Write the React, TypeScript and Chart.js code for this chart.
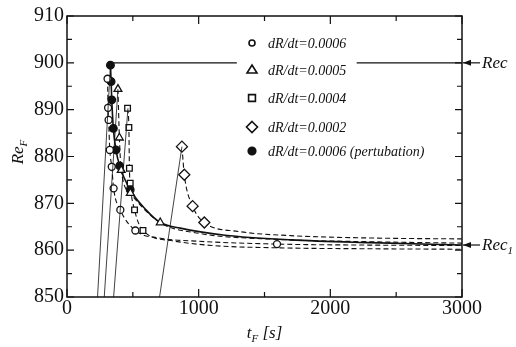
import React, { useEffect, useRef } from "react";
import { Chart, registerables } from "chart.js";
Chart.register(...registerables);

// ---- data ----
const xTickValues = [0, 1000, 2000, 3000];
const yTickValues = [850, 860, 870, 880, 890, 900, 910];

// dR/dt = 0.0006 (open circles); flagged entries carry markers, rest smooth curve
const circleT = [308, 312, 316, 325, 340, 354, 405, 519, 700, 1000, 1595, 2200, 3000];
const circleRe = [896.6, 890.4, 887.8, 881.4, 877.8, 873.2, 868.6, 864.2, 862.6, 861.9, 861.3, 861.1, 861.0];
const circleMarked = [1, 1, 1, 1, 1, 1, 1, 1, 0, 0, 1, 0, 0];

// dR/dt = 0.0005 (open triangles)
const triT = [387, 398, 412, 481, 708, 1000, 1600, 2300, 3000];
const triRe = [894.4, 884.0, 877.1, 872.2, 865.9, 863.6, 862.3, 861.8, 861.5];
const triMarked = [1, 1, 1, 1, 1, 0, 0, 0, 0];

// dR/dt = 0.0004 (open squares)
const sqT = [460, 470, 474, 480, 513, 577, 800, 1100, 1600, 2300, 3000];
const sqRe = [890.3, 886.2, 877.5, 874.3, 868.6, 864.2, 862.0, 861.0, 860.5, 860.3, 860.2];
const sqMarked = [1, 1, 1, 1, 1, 1, 0, 0, 0, 0, 0];

// dR/dt = 0.0002 (open diamonds)
const diaT = [873, 891, 954, 1043, 1300, 1700, 2300, 3000];
const diaRe = [882.1, 876.1, 869.4, 865.9, 864.0, 863.1, 862.6, 862.4];
const diaMarked = [1, 1, 1, 1, 0, 0, 0, 0];

// dR/dt = 0.0006 perturbation (filled circles, solid line)
const pertT = [330, 335, 340, 352, 372, 400, 480, 600, 708, 860, 1200, 1700, 2300, 3000];
const pertRe = [899.5, 896.0, 892.1, 886.0, 881.4, 878.0, 872.9, 868.6, 865.9, 864.7, 863.2, 862.2, 861.6, 861.1];
const pertMarked = [1, 1, 1, 1, 1, 1, 1, 0, 0, 0, 0, 0, 0, 0];

// ramp-up lines (thin solid)
const rampStartT = [232, 283, 354, 703];
const rampEndT = [330, 387, 463, 873];
const rampEndRe = [899.5, 894.4, 890.3, 882.1];
const rampStartRe = 850;

// critical values
const recValue = 900;
const rec1Value = 861.1;
const recSeg1T = [350, 1290];
const recSeg2T = [2200, 3000];

const legendLabels = [
  "dR/dt=0.0006",
  "dR/dt=0.0005",
  "dR/dt=0.0004",
  "dR/dt=0.0002",
  "dR/dt=0.0006 (pertubation)",
];

const pts = (t: number[], r: number[]) => t.map((x, i) => ({ x, y: r[i] }));

function drawMarker(c: CanvasRenderingContext2D, style: string, x: number, y: number, r: number, fill: string) {
  c.beginPath();
  if (style === "circle") {
    c.arc(x, y, r, 0, Math.PI * 2);
  } else if (style === "triangle") {
    c.moveTo(x, y - r);
    c.lineTo(x + r, y + r * 0.6);
    c.lineTo(x - r, y + r * 0.6);
  } else if (style === "rect") {
    c.rect(x - r * 0.9, y - r * 0.9, r * 1.8, r * 1.8);
  } else if (style === "rectRot") {
    c.moveTo(x, y - r);
    c.lineTo(x + r, y);
    c.lineTo(x, y + r);
    c.lineTo(x - r, y);
  }
  c.closePath();
  c.fillStyle = fill;
  c.fill();
  c.stroke();
}

export default function App() {
  const ref = useRef<HTMLCanvasElement>(null);
  useEffect(() => {
    const ctx = ref.current!.getContext("2d")!;
    const serif = "'Liberation Serif', 'DejaVu Serif', serif";
    const dash = [5, 3];
    const markerDs = (
      data: { x: number; y: number }[],
      marked: number[],
      style: any,
      r: number,
      fill: string,
      solid: boolean
    ) => ({
      data,
      borderColor: "#111",
      borderWidth: solid ? 1.6 : 1.1,
      borderDash: solid ? [] : dash,
      pointStyle: style,
      pointRadius: (c: any) => (marked[c.dataIndex] ? r : 0),
      pointBackgroundColor: fill,
      pointBorderColor: "#111",
      pointBorderWidth: 1.3,
      cubicInterpolationMode: "monotone",
      fill: false,
    });

    const ramps = rampStartT.map((s, i) => ({
      data: [
        { x: s, y: rampStartRe },
        { x: rampEndT[i], y: rampEndRe[i] },
      ],
      borderColor: "#111",
      borderWidth: 0.8,
      pointRadius: 0,
      fill: false,
    }));

    const recDs = [recSeg1T, recSeg2T].map((seg) => ({
      data: seg.map((t) => ({ x: t, y: recValue })),
      borderColor: "#111",
      borderWidth: 1.1,
      pointRadius: 0,
      fill: false,
    }));

    const decor = {
      id: "decor",
      afterDatasetsDraw(chart: any) {
        const c = chart.ctx as CanvasRenderingContext2D;
        const xs = chart.scales.x;
        const ys = chart.scales.y;
        const { left, right, top, bottom } = chart.chartArea;
        c.save();
        c.strokeStyle = "#111";
        c.fillStyle = "#111";
        // frame
        c.lineWidth = 1.5;
        c.strokeRect(left, top, right - left, bottom - top);
        // ticks
        c.lineWidth = 1.2;
        c.beginPath();
        for (let v = 0; v <= 3000; v += 500) {
          const px = xs.getPixelForValue(v);
          const L = v % 1000 === 0 ? 8 : 5;
          c.moveTo(px, bottom);
          c.lineTo(px, bottom - L);
          c.moveTo(px, top);
          c.lineTo(px, top + L);
        }
        for (let v = 850; v <= 910; v += 5) {
          const py = ys.getPixelForValue(v);
          const L = v % 10 === 0 ? 7 : 5;
          c.moveTo(left, py);
          c.lineTo(left + L, py);
          c.moveTo(right, py);
          c.lineTo(right - L, py);
        }
        c.stroke();

        // arrows Rec / Rec1
        const arrow = (val: number) => {
          const py = ys.getPixelForValue(val);
          c.lineWidth = 1.2;
          c.beginPath();
          c.moveTo(right + 1, py);
          c.lineTo(right + 18, py);
          c.stroke();
          c.beginPath();
          c.moveTo(right + 1, py);
          c.lineTo(right + 9, py - 3);
          c.lineTo(right + 9, py + 3);
          c.closePath();
          c.fill();
          return py;
        };
        const pyRec = arrow(recValue);
        const pyRec1 = arrow(rec1Value);
        c.textBaseline = "middle";
        c.textAlign = "left";
        c.font = `italic 17px ${serif}`;
        c.fillText("Rec", right + 20, pyRec + 1);
        c.fillText("Rec", right + 20, pyRec1 + 1);
        const w = c.measureText("Rec").width;
        c.font = `italic 11px ${serif}`;
        c.fillText("1", right + 20 + w, pyRec1 + 6);

        // axis titles
        c.font = `italic 17px ${serif}`;
        const tw = c.measureText("t").width;
        c.font = `italic 11px ${serif}`;
        const fw = c.measureText("F").width;
        c.font = `italic 17px ${serif}`;
        const sw = c.measureText(" [s]").width;
        const total = tw + fw + sw;
        const x0 = (left + right) / 2 - total / 2;
        const yT = 334;
        c.fillText("t", x0, yT);
        c.font = `italic 11px ${serif}`;
        c.fillText("F", x0 + tw, yT + 5);
        c.font = `italic 17px ${serif}`;
        c.fillText(" [s]", x0 + tw + fw, yT);

        c.save();
        c.translate(19, 152);
        c.rotate(-Math.PI / 2);
        c.font = `italic 17px ${serif}`;
        const rw = c.measureText("Re").width;
        c.font = `italic 11px ${serif}`;
        const fw2 = c.measureText("F").width;
        const tot2 = rw + fw2;
        c.font = `italic 17px ${serif}`;
        c.fillText("Re", -tot2 / 2, 0);
        c.font = `italic 11px ${serif}`;
        c.fillText("F", -tot2 / 2 + rw, 5);
        c.restore();

        // legend
        const lx = 252;
        const ly = [43, 70, 98, 127, 151];
        const styles = ["circle", "triangle", "rect", "rectRot", "circle"];
        const radii = [3, 5, 3.8, 5.5, 3.8];
        const fills = ["#fff", "#fff", "#fff", "#fff", "#111"];
        for (let i = 0; i < 5; i++) {
          c.strokeStyle = "#111";
          c.lineWidth = 1.6;
          drawMarker(c, styles[i], lx, ly[i], radii[i], fills[i]);
          c.fillStyle = "#111";
          c.font = `italic 14px ${serif}`;
          c.textAlign = "left";
          c.fillText(legendLabels[i], 268, ly[i] + 1);
        }
        c.restore();
      },
    };

    const chart = new Chart(ctx, {
      type: "line",
      data: {
        datasets: [
          ...ramps,
          ...recDs,
          markerDs(pts(circleT, circleRe), circleMarked, "circle", 3.5, "#fff", false),
          markerDs(pts(triT, triRe), triMarked, "triangle", 4.5, "#fff", false),
          markerDs(pts(sqT, sqRe), sqMarked, "rect", 4, "#fff", false),
          markerDs(pts(diaT, diaRe), diaMarked, "rectRot", 5.5, "#fff", false),
          markerDs(pts(pertT, pertRe), pertMarked, "circle", 3.8, "#111", true),
        ] as any,
      },
      options: {
        animation: false,
        responsive: false,
        parsing: false,
        layout: { padding: { left: 0, right: 54, top: 16, bottom: 0 } },
        plugins: { legend: { display: false }, tooltip: { enabled: false } },
        scales: {
          x: {
            type: "linear",
            min: 0,
            max: 3000,
            afterFit: (s: any) => {
              s.height = 50;
            },
            afterBuildTicks: (s: any) => {
              s.ticks = xTickValues.map((v) => ({ value: v }));
            },
            ticks: {
              font: { family: serif, size: 20 },
              color: "#111",
              padding: 0,
              maxRotation: 0,
              callback: (v: any) => String(v),
            },
            grid: { display: false, drawTicks: false },
            border: { display: false },
          },
          y: {
            type: "linear",
            min: 850,
            max: 910,
            afterFit: (s: any) => {
              s.width = 67;
            },
            afterBuildTicks: (s: any) => {
              s.ticks = yTickValues.map((v) => ({ value: v }));
            },
            ticks: {
              font: { family: serif, size: 20 },
              color: "#111",
              padding: 3,
              callback: (v: any) => String(v),
            },
            grid: { display: false, drawTicks: false },
            border: { display: false },
          },
        },
      },
      plugins: [decor],
    } as any);
    return () => chart.destroy();
  }, []);

  return (
    <div style={{ position: "absolute", left: 0, top: 0, width: 516, height: 347, background: "#fff" }}>
      <canvas ref={ref} width={516} height={347} style={{ width: 516, height: 347 }} />
    </div>
  );
}
